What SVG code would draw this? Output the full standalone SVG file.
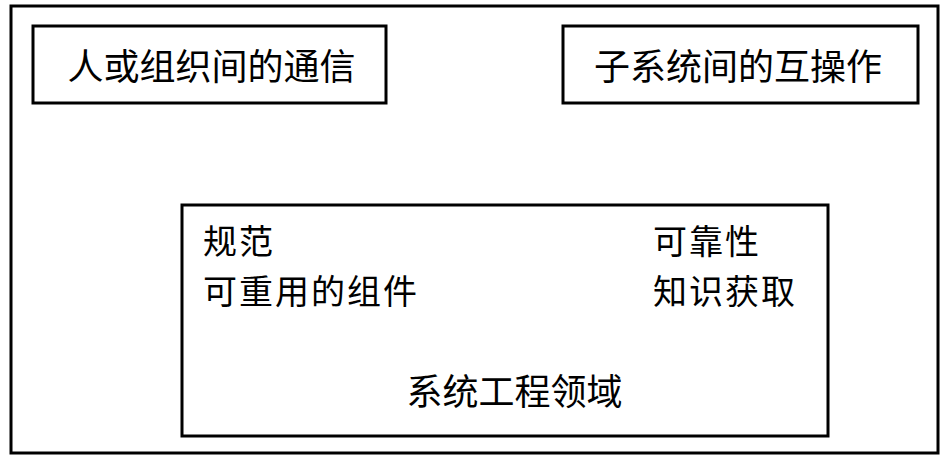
<svg xmlns="http://www.w3.org/2000/svg" width="945" height="460" viewBox="0 0 945 460">
<style>
.box{fill:#fff;stroke:#000;stroke-width:3}
.t{font-family:"Noto Sans CJK SC","Liberation Sans",sans-serif;font-size:36px;fill:#000}
.s{font-size:34px;letter-spacing:2px}
</style>
<rect width="945" height="460" fill="#fff"/>
<g id="outer"><rect class="box" x="11" y="6" width="927" height="447"/></g>
<g id="comm"><rect class="box" x="33" y="26" width="353" height="77"/><text class="t" x="211.5" y="80" text-anchor="middle">人或组织间的通信</text></g>
<g id="interop"><rect class="box" x="563" y="26" width="355" height="77"/><text class="t" x="738" y="80" text-anchor="middle">子系统间的互操作</text></g>
<g id="domain"><rect class="box" x="182" y="205" width="646" height="231"/>
<text class="t s" x="203" y="254">规范</text>
<text class="t s" x="203" y="304">可重用的组件</text>
<text class="t s" x="653" y="254">可靠性</text>
<text class="t s" x="653" y="304">知识获取</text>
<text class="t" x="514.5" y="405" text-anchor="middle">系统工程领域</text>
</g>
<g id="connectors"></g>
</svg>
